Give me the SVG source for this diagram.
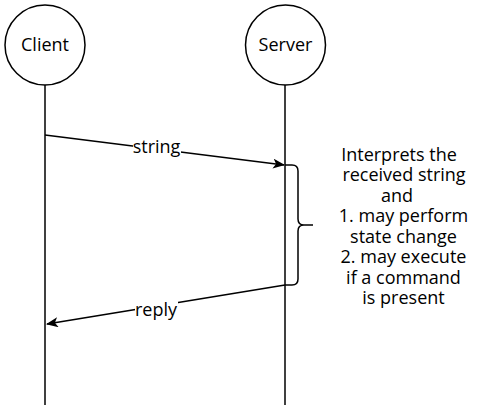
<svg xmlns="http://www.w3.org/2000/svg" width="480" height="411" viewBox="0 0 480 411">
<style>
.ln{fill:none;stroke:#000;stroke-width:1.5}
.nd{fill:#fff;stroke:#000;stroke-width:1.5}
text{font-family:"Open Sans","Liberation Sans",sans-serif;font-size:18px;fill:#000}
.c{text-anchor:middle}
</style>
<defs>
<marker id="arr" viewBox="0 0 12 10" refX="11" refY="5" markerWidth="12" markerHeight="10" markerUnits="userSpaceOnUse" orient="auto">
<path d="M0,0 L12,5 L0,10 L3,5 Z" fill="#000"/>
</marker>
</defs>
<g id="connectors">
<line class="ln" x1="45" y1="85" x2="45" y2="405"/>
<line class="ln" x1="285" y1="85" x2="285" y2="405"/>
<line class="ln" x1="45" y1="135" x2="284" y2="165" marker-end="url(#arr)"/>
<line class="ln" x1="285" y1="285" x2="47" y2="324" marker-end="url(#arr)"/>
<path class="ln" d="M285,165 H292 Q298,165 298,171 V219 Q298,225 304,225 H313 M304,225 Q298,225 298,231 V279 Q298,285 292,285 H285"/>
<rect x="133" y="139" width="48" height="18" fill="#fff"/>
<text class="c" x="156.5" y="153">string</text>
<rect x="135" y="301" width="43" height="18" fill="#fff"/>
<text class="c" x="156" y="316">reply</text>
</g>
<g id="client">
<circle class="nd" cx="45" cy="45" r="40"/>
<text class="c" x="45" y="51">Client</text>
</g>
<g id="server">
<circle class="nd" cx="285.5" cy="45" r="40"/>
<text class="c" x="285.5" y="51">Server</text>
</g>
<g id="note">
<text class="c" x="399" y="160.5">Interprets the</text>
<text class="c" x="404" y="181">received string</text>
<text class="c" x="397" y="201.5">and</text>
<text class="c" x="403.5" y="222">1. may perform</text>
<text class="c" x="403.5" y="242.5">state change</text>
<text class="c" x="403.5" y="263">2. may execute</text>
<text class="c" x="403.5" y="283.5">if a command</text>
<text class="c" x="403.5" y="304">is present</text>
</g>
</svg>
